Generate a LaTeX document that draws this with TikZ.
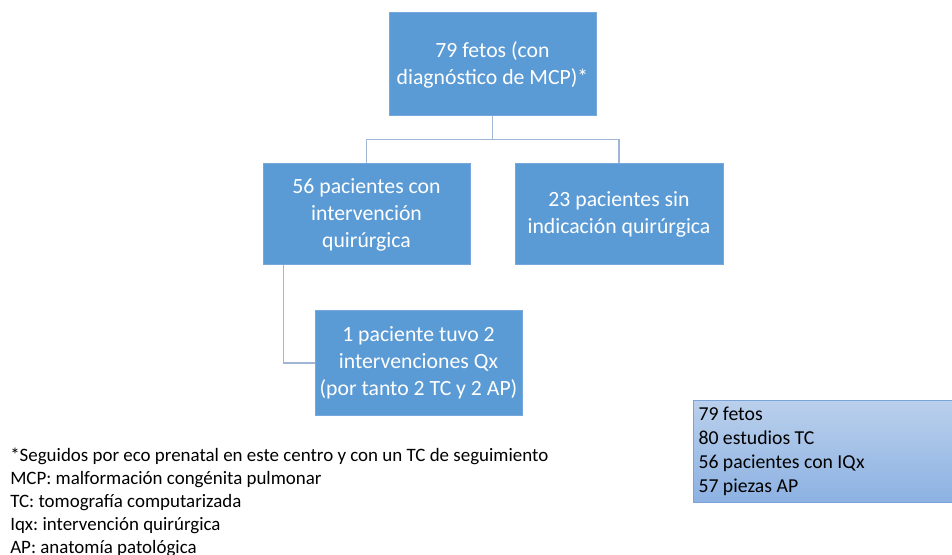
\documentclass[tikz,border=0pt]{standalone}
\usepackage{fontspec}
\setmainfont{Carlito}
\usepackage{xcolor}
\usetikzlibrary{positioning}
\definecolor{office}{RGB}{91,155,213}
\definecolor{officeedge}{RGB}{118,168,220}
\definecolor{link}{RGB}{160,182,212}
\definecolor{sumtop}{RGB}{186,208,236}
\definecolor{sumbot}{RGB}{140,177,226}
\definecolor{sumedge}{RGB}{122,163,215}
\frenchspacing

\begin{document}
\begin{tikzpicture}[x=0.75pt, y=-0.75pt,
		box/.style={fill=office, draw=officeedge, line width=0.75pt, text=white,
			align=center, minimum width=155.25pt, minimum height=75.75pt, inner sep=2pt,
			font=\fontsize{16.3}{20.25}\selectfont},
		conn/.style={draw=link, line width=0.9pt}]
		\clip (0,0) rectangle (952,555);
		\node[box, minimum height=77.25pt] (fetos) at (492.5,64.5)
			{79 fetos (con\\diagnóstico de MCP)*};
		\node[box, below=35.25pt of fetos, xshift=-94.5pt] (qx)
			{56 pacientes con\\intervención\\quirúrgica};
		\node[box, minimum width=156pt, right=33pt of qx] (noqx)
			{23 pacientes sin\\indicación quirúrgica};
		\node[box, minimum height=78pt, below=33.75pt of qx, xshift=39pt] (dos)
			{1 paciente tuvo 2\\intervenciones Qx\\(por tanto 2 TC y 2 AP)};
		% resumen
		\node[top color=sumtop, bottom color=sumbot, draw=sumedge, line width=0.75pt,
			anchor=north west, minimum width=196.5pt, minimum height=76.5pt,
			inner xsep=3.75pt, font=\fontsize{14.8}{18}\selectfont] (resumen) at (693,400)
			{\begin{minipage}{189pt}\raggedright
			79 fetos\\80 estudios TC\\56 pacientes con IQx\\57 piezas AP\end{minipage}};
		\node[anchor=north west, inner sep=0pt, align=left,
			font=\fontsize{14.2}{17.25}\selectfont] (notas) at (10,448)
			{*Seguidos por eco prenatal en este centro y con un TC de seguimiento\\
			 MCP: malformación congénita pulmonar\\
			 TC: tomografía computarizada\\
			 Iqx: intervención quirúrgica\\
			 AP: anatomía patológica};
		\draw[conn] (fetos.south) -- ++(0,23) -| (qx.north);
		\draw[conn] (fetos.south) -- ++(0,23) -| (noqx.north);
		\draw[conn] ([xshift=15.75pt]qx.south west) |- (dos.west);
	\end{tikzpicture}
\end{document}
